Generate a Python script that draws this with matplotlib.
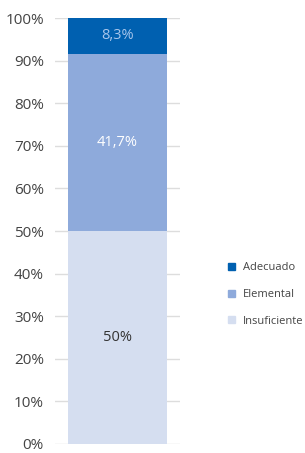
import matplotlib
matplotlib.use("Agg")
import matplotlib.pyplot as plt
from matplotlib.patches import Patch

# stacked shares (bottom -> top)
categories = ["Insuficiente", "Elemental", "Adecuado"]
values = [50.0, 41.7, 8.3]
labels = ["50%", "41,7%", "8,3%"]
colors = ["#D5DEF0", "#8EAADB", "#0060B0"]
label_colors = ["#333333", "#FFFFFF", "#A9C6EC"]
yticks = list(range(0, 101, 10))

plt.rcParams["font.family"] = ["Open Sans", "DejaVu Sans"]

fig = plt.figure(figsize=(3.05, 4.53), dpi=100)
ax = fig.add_axes([0.180, 0.0199, 0.410, 0.940])

bottom = 0
for val, lab, col, tc in zip(values, labels, colors, label_colors):
    ax.bar(0, val, bottom=bottom, width=0.79, color=col, zorder=2)
    ax.text(0, bottom + val / 2, lab, ha="center", va="center",
            fontsize=10.5, color=tc, zorder=3)
    bottom += val

ax.set_xlim(-0.5, 0.5)
ax.set_ylim(0, 100)
ax.set_yticks(yticks)
ax.set_yticklabels([f"{t}%" for t in yticks])
ax.set_xticks([])
ax.tick_params(axis="y", length=0, pad=8, labelsize=11, labelcolor="#444444")
ax.grid(axis="y", color="#DDDDDD", linewidth=1, zorder=0)
for s in ax.spines.values():
    s.set_visible(False)

handles = [Patch(color=c, label=n) for c, n in zip(colors[::-1], categories[::-1])]
fig.legend(handles=handles, loc="upper left", bbox_to_anchor=(0.715, 0.443),
           frameon=False, fontsize=8, labelcolor="#444444",
           handlelength=0.6, handleheight=0.6, handletextpad=0.7,
           labelspacing=1.42)

fig.savefig("out.png", dpi=100)
